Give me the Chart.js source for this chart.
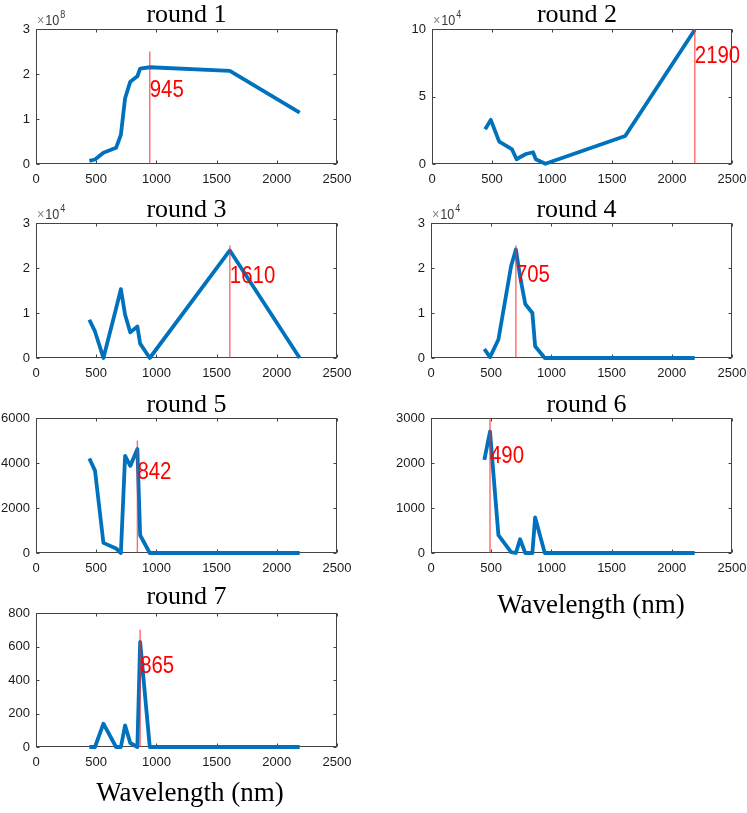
<!DOCTYPE html>
<html><head><meta charset="utf-8">
<script src="https://cdn.jsdelivr.net/npm/chart.js@4.4.0/dist/chart.umd.min.js"></script>
<style>
html,body{margin:0;padding:0;background:#fff;}
#wrap{position:relative;width:747px;height:813px;overflow:hidden;background:#fff;}
#wrap canvas{position:absolute;}
</style></head><body><div id="wrap"></div>
<script>
// ---- data ----
const wavelengths = [443, 490, 560, 665, 705, 740, 783, 842, 865, 945, 1610, 2190];
const round1 = [0.07, 0.10, 0.25, 0.36, 0.65, 1.46, 1.83, 1.95, 2.12, 2.15, 2.07, 1.14]; // x1e8
const round2 = [2.57, 3.27, 1.66, 1.11, 0.35, 0.54, 0.74, 0.87, 0.35, 0.02, 2.08, 9.95]; // x1e4
const round3 = [0.85, 0.59, 0.00, 1.10, 1.53, 0.96, 0.57, 0.70, 0.32, 0.00, 2.39, 0.00]; // x1e4
const round4 = [0.20, 0.02, 0.41, 2.04, 2.41, 1.81, 1.20, 1.00, 0.26, 0, 0, 0];          // x1e4
const round5 = [4200, 3660, 450, 200, 0, 4320, 3870, 4620, 790, 0, 0, 0];
const round6 = [2070, 2700, 395, 20, 0, 305, 0, 0, 790, 0, 0, 0];
const round7 = [0, 0, 139, 0, 0, 129, 24, 0, 627, 0, 0, 0];
const roundSeries = [round1, round2, round3, round4, round5, round6, round7];
const roundTitles = ["round 1", "round 2", "round 3", "round 4", "round 5", "round 6", "round 7"];
const peakWavelengths = [945, 2190, 1610, 705, 842, 490, 865];
const peakLineTops = [2.5, 10, 2.5, 2.5, 5000, 3000, 700];
const peakLabelY = [1.63, 7.95, 1.81, 1.84, 3570, 2140, 484];
const yMaxes = [3, 10, 3, 3, 6000, 3000, 800];
const ySteps = [1, 5, 1, 1, 2000, 1000, 200];
const yExponents = [8, 4, 4, 4, 0, 0, 0];
const xMin = 0, xMax = 2500, xStep = 500;
const xAxisTitle = "Wavelength (nm)";

// ---- layout (page pixel positions) ----
const panels = [
  {cx:0,   cy:0,   cw:374, ch:190, L:36,  T:29,  R:337, B:164, tg:7, tx:0},
  {cx:374, cy:0,   cw:400, ch:190, L:432, T:29,  R:732, B:164, tg:7, tx:-5},
  {cx:0,   cy:190, cw:374, ch:190, L:36,  T:223, R:337, B:358, tg:6, tx:0},
  {cx:374, cy:190, cw:400, ch:190, L:431, T:223, R:732, B:358, tg:6, tx:-5},
  {cx:0,   cy:380, cw:374, ch:200, L:36,  T:418, R:337, B:553, tg:6, tx:0},
  {cx:374, cy:380, cw:400, ch:250, L:431, T:418, R:732, B:553, tg:6, tx:5, xt:{x:591, y:613}},
  {cx:0,   cy:580, cw:374, ch:233, L:36,  T:613, R:337, B:747, tg:9, tx:0, xt:{x:190, y:801}}
];

const SANS = "'Liberation Sans', Arial, Helvetica, sans-serif";
const SERIF = "'Liberation Serif', 'Times New Roman', serif";
const BLUE = '#0072BD';
const COND = 0.85; // horizontal condensing for drawn labels

const decoPlugin = {
  id: 'deco',
  beforeDatasetsDraw(chart, args, o) {
    const {ctx, chartArea: a, scales: {x, y}} = chart;
    ctx.save();
    ctx.strokeStyle = '#444';
    ctx.lineWidth = 1;
    const l = Math.round(a.left) + 0.5, t = Math.round(a.top) + 0.5;
    const r = Math.round(a.right) - 0.5, b = Math.round(a.bottom) - 0.5;
    ctx.strokeRect(l, t, r - l, b - t);
    const tl = 3;
    ctx.beginPath();
    x.ticks.forEach(tk => {
      const px = Math.round(x.getPixelForValue(tk.value)) + 0.5;
      ctx.moveTo(px, b); ctx.lineTo(px, b - tl);
      ctx.moveTo(px, t); ctx.lineTo(px, t + tl);
    });
    y.ticks.forEach(tk => {
      const py = Math.round(y.getPixelForValue(tk.value)) + 0.5;
      ctx.moveTo(l, py); ctx.lineTo(l + tl, py);
      ctx.moveTo(r, py); ctx.lineTo(r - tl, py);
    });
    ctx.stroke();
    ctx.restore();
  },
  afterDatasetsDraw(chart, args, o) {
    const {ctx, chartArea: a, scales: {x, y}} = chart;
    // peak label (condensed)
    ctx.save();
    ctx.fillStyle = '#FF0000';
    ctx.font = "24px " + SANS;
    ctx.textAlign = 'left';
    ctx.textBaseline = 'middle';
    const lx = x.getPixelForValue(o.peak), ly = y.getPixelForValue(o.labelY);
    ctx.translate(lx, ly);
    ctx.scale(COND, 1);
    ctx.fillText(String(o.peak), 0, 0);
    ctx.restore();

    ctx.save();
    // title
    ctx.fillStyle = '#000';
    ctx.font = "26px " + SERIF;
    ctx.textAlign = 'center';
    ctx.textBaseline = 'alphabetic';
    ctx.fillText(o.title, (a.left + a.right) / 2 + o.tx, a.top - o.tg);
    // x axis title
    if (o.xt) {
      ctx.font = "27px " + SERIF;
      ctx.fillText(xAxisTitle, o.xt.x, o.xt.y);
    }
    ctx.restore();

    // exponent
    if (o.exp) {
      ctx.save();
      ctx.translate(a.left + 1, a.top - 4);
      ctx.scale(0.9, 1);
      ctx.textAlign = 'left';
      ctx.textBaseline = 'alphabetic';
      ctx.font = "14px " + SANS;
      ctx.fillStyle = '#8a8a8a';
      ctx.fillText('\u00d7', 0, 0);
      const w1 = ctx.measureText('\u00d7').width;
      ctx.fillStyle = '#3a3a3a';
      ctx.fillText('10', w1 + 1, 0);
      const w2 = ctx.measureText('10').width;
      ctx.font = "10px " + SANS;
      ctx.fillText(String(o.exp), w1 + w2 + 2, -7);
      ctx.restore();
    }
  }
};

const wrap = document.getElementById('wrap');
panels.forEach((p, i) => {
  const cv = document.createElement('canvas');
  cv.width = p.cw; cv.height = p.ch;
  cv.style.left = p.cx + 'px'; cv.style.top = p.cy + 'px';
  cv.style.width = p.cw + 'px'; cv.style.height = p.ch + 'px';
  wrap.appendChild(cv);
  const xAxisH = 20;
  const series = roundSeries[i].map((v, k) => ({x: wavelengths[k], y: v}));
  new Chart(cv.getContext('2d'), {
    type: 'line',
    data: {
      datasets: [
        {
          data: [{x: peakWavelengths[i], y: 0}, {x: peakWavelengths[i], y: peakLineTops[i]}],
          borderColor: 'rgba(255,40,40,0.7)', borderWidth: 1.4, pointRadius: 0,
          tension: 0, clip: false, order: 0
        },
        {
          data: series, borderColor: BLUE, borderWidth: 3.8, pointRadius: 0,
          tension: 0, clip: false, order: 1,
          borderJoinStyle: 'round', borderCapStyle: 'butt'
        }
      ]
    },
    options: {
      responsive: false, animation: false, devicePixelRatio: 1,
      layout: {padding: {left: 0, top: p.T - p.cy, right: p.cx + p.cw - p.R, bottom: (p.cy + p.ch) - p.B - xAxisH}},
      plugins: {
        legend: {display: false}, tooltip: {enabled: false}, title: {display: false},
        deco: {peak: peakWavelengths[i], labelY: peakLabelY[i], title: roundTitles[i], exp: yExponents[i], tg: p.tg, tx: p.tx, xt: p.xt ? {x: p.xt.x - p.cx, y: p.xt.y - p.cy} : null}
      },
      scales: {
        x: {
          type: 'linear', min: xMin, max: xMax,
          grid: {display: false, drawTicks: false}, border: {display: false},
          ticks: {stepSize: xStep, padding: 8, color: '#1a1a1a', font: {family: SANS, size: 13}, maxRotation: 0, autoSkip: false, callback: v => String(v)},
          afterFit: s => { s.height = xAxisH; }
        },
        y: {
          type: 'linear', min: 0, max: yMaxes[i],
          grid: {display: false, drawTicks: false}, border: {display: false},
          ticks: {stepSize: ySteps[i], padding: 6, color: '#1a1a1a', font: {family: SANS, size: 13}, callback: v => String(v)},
          afterFit: s => { s.width = p.L - p.cx; }
        }
      }
    },
    plugins: [decoPlugin]
  });
});
</script>
</body></html>
